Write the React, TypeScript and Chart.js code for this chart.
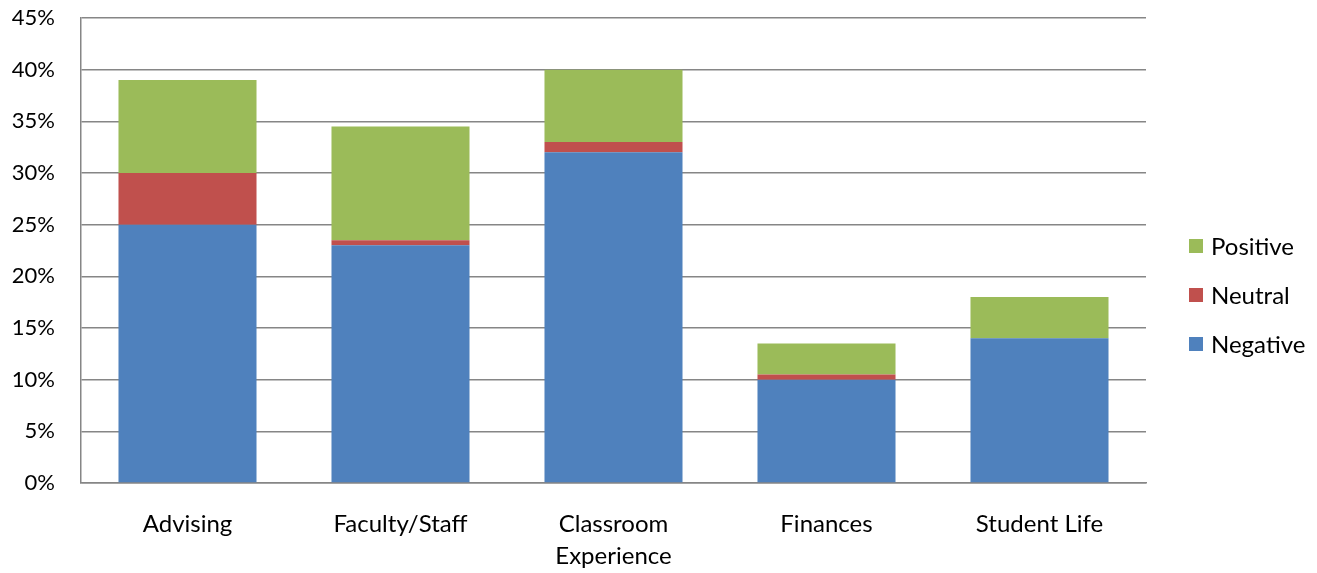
import React, { useEffect, useRef } from "react";
import { Chart, registerables } from "chart.js";

Chart.register(...registerables);

const categories: (string | string[])[] = ["Advising", "Faculty/Staff", ["Classroom", "Experience"], "Finances", "Student Life"];
const negative = [25, 23, 32, 10, 14];
const neutral = [5, 0.5, 1, 0.5, 0];
const positive = [9, 11, 7, 3, 4];
const legendItems = [
  { label: "Positive", color: "#9BBB59" },
  { label: "Neutral", color: "#C0504D" },
  { label: "Negative", color: "#4F81BD" },
];

const FONT = "Lato, 'Open Sans', sans-serif";

export default function App() {
  const ref = useRef<HTMLCanvasElement | null>(null);
  useEffect(() => {
    if (!ref.current) return;
    const chart = new Chart(ref.current, {
      type: "bar",
      data: {
        labels: categories,
        datasets: [
          { label: "Negative", data: negative, backgroundColor: "#4F81BD", borderWidth: 0 },
          { label: "Neutral", data: neutral, backgroundColor: "#C0504D", borderWidth: 0 },
          { label: "Positive", data: positive, backgroundColor: "#9BBB59", borderWidth: 0 },
        ],
      },
      options: {
        animation: false,
        responsive: false,
        maintainAspectRatio: false,
        datasets: { bar: { barPercentage: 0.648, categoryPercentage: 1 } },
        layout: { padding: { top: 18, right: 171, left: 0, bottom: 0 } },
        plugins: { legend: { display: false }, tooltip: { enabled: false } },
        scales: {
          x: {
            stacked: true,
            grid: { display: false, drawTicks: false },
            border: { display: true, color: "#868686", width: 1.5 },
            ticks: { color: "#000", font: { family: FONT, size: 24, lineHeight: 1.35 }, padding: 25, maxRotation: 0 },
            afterFit: (s: any) => { s.height = 90; },
          },
          y: {
            stacked: true,
            min: 0,
            max: 45,
            ticks: {
              stepSize: 5,
              color: "#000",
              font: { family: FONT, size: 22 },
              padding: 2,
              callback: (v: any) => v + "%",
            },
            grid: { color: "#868686", lineWidth: 1.5, drawTicks: true, tickLength: 24, tickColor: "rgba(0,0,0,0)" },
            border: { display: true, color: "#868686", width: 1.5 },
            afterFit: (s: any) => { s.width = 81; },
          },
        },
      },
    });
    return () => chart.destroy();
  }, []);
  return (
    <div style={{ position: "fixed", left: 0, top: 0, width: 1317, height: 573, background: "#fff" }}>
      <canvas ref={ref} width={1317} height={573} />
      <div style={{ position: "absolute", left: 1189, top: 221, fontFamily: FONT, fontSize: 24, color: "#000" }}>
        {legendItems.map((it) => (
          <div key={it.label} style={{ display: "flex", alignItems: "center", height: 49 }}>
            <span style={{ display: "inline-block", width: 14, height: 14, background: it.color, marginRight: 8 }} />
            <span>{it.label}</span>
          </div>
        ))}
      </div>
    </div>
  );
}
